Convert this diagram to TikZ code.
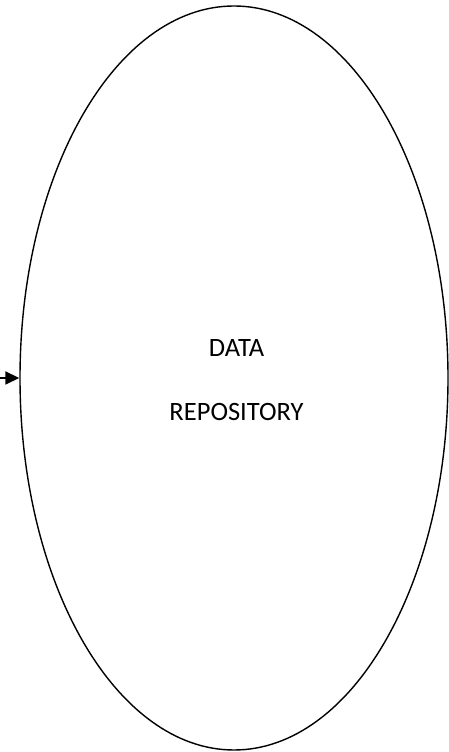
\documentclass[tikz,border=0pt]{standalone}
\usepackage{fontspec}
\setmainfont{Carlito}
\usetikzlibrary{shapes.geometric,arrows.meta}
\tikzset{
  repo/.style={draw=black, line width=1.4pt, ellipse, minimum width=428pt, minimum height=744pt, inner sep=0pt},
  lbl/.style={font=\fontsize{26.5}{32}\selectfont, anchor=base, inner sep=0pt},
  flow/.style={line width=1.8pt, -{Triangle[length=14pt,width=13pt]}}
}
\begin{document}
\begin{tikzpicture}[x=1pt,y=1pt]
\useasboundingbox (0,0) rectangle (449,752);
\clip (0,0) rectangle (449,752);
\fill[white] (0,0) rectangle (449,752);
\node[repo] (db) at (234,374) {};
\node[lbl] (t1) at (236.5,395) {DATA};
\node[lbl] (t2) at (236.5,331) {REPOSITORY};
\coordinate (src) at (0,374);
\draw[flow] (src) -- (db.west);
\end{tikzpicture}
\end{document}
